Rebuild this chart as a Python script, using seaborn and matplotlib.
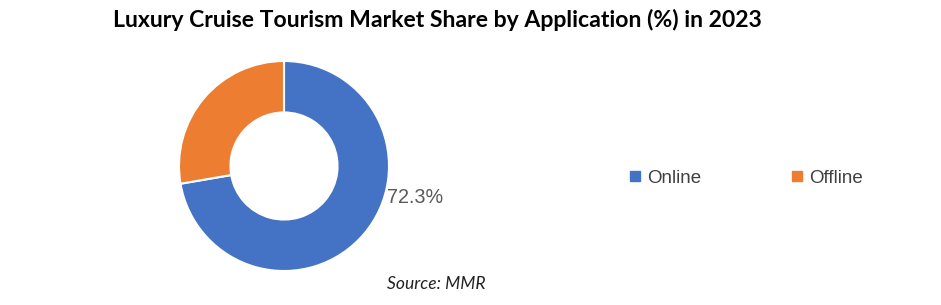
import matplotlib
matplotlib.use("Agg")
import matplotlib.pyplot as plt
from matplotlib.lines import Line2D
import seaborn as sns

categories = ["Online", "Offline"]
shares = [72.3, 27.7]
colors = ["#4472C4", "#ED7D31"]
title = "Luxury Cruise Tourism Market Share by Application (%) in 2023"
source = "Source: MMR"

sns.set_theme(style="white")
plt.rcParams['font.family'] = ['Liberation Sans', 'DejaVu Sans']

W, H = 941, 305
fig = plt.figure(figsize=(W / 100, H / 100), dpi=100)
fig.patch.set_facecolor("white")

cx, cy, r = 284, 166, 105
ax = fig.add_axes([(cx - r) / W, (H - cy - r) / H, 2 * r / W, 2 * r / H])
wedges, _ = ax.pie(shares, colors=colors, startangle=90, counterclock=False,
                   radius=1.0,
                   wedgeprops=dict(width=0.49, edgecolor="white", linewidth=1.5))
ax.set_xlim(-1, 1)
ax.set_ylim(-1, 1)
ax.set_aspect("equal")
ax.axis("off")

ax.text(1.25, -0.30, f"{shares[0]}%", ha="center", va="center",
        fontsize=14.2, color="#595959", clip_on=False)

handles = [Line2D([0], [0], marker="s", linestyle="none", markersize=6.5,
                  markerfacecolor=c, markeredgecolor=c) for c in colors]
fig.legend(handles, categories, loc="center", bbox_to_anchor=(744 / W, 1 - 178 / H),
           ncol=2, frameon=False, fontsize=13.5, columnspacing=4.6,
           handletextpad=0.15, handlelength=1.0, labelcolor="#404040")

fig.text(437 / W, 1 - 20 / H, title, ha="center", va="center",
         fontsize=16.6, fontweight="bold", family=["Lato", "DejaVu Sans"], color="black")
fig.text(436 / W, 1 - 284 / H, source, ha="center", va="center",
         fontsize=12.6, style="italic", family=["Lato", "DejaVu Sans"], color="#222222")

fig.savefig("out.png", dpi=100, facecolor="white")
